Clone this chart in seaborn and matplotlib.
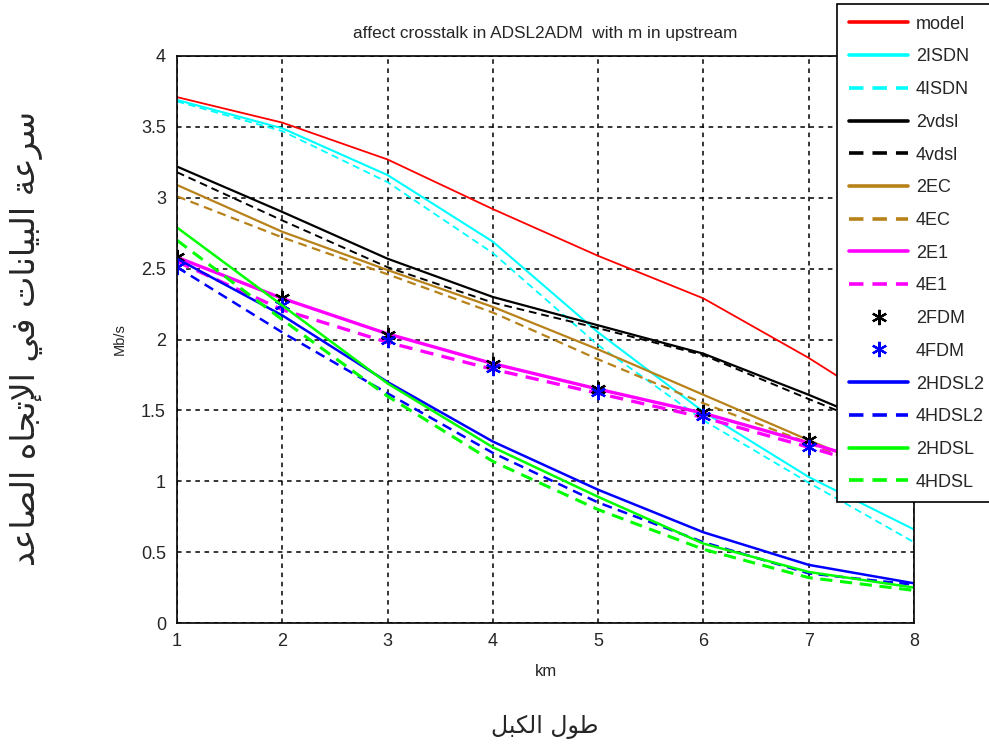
import numpy as np
import pandas as pd
import matplotlib
matplotlib.use("Agg")
import matplotlib.pyplot as plt
import seaborn as sns

# ---------------- data ----------------
km = [1, 2, 3, 4, 5, 6, 7, 8]
model = [3.71, 3.53, 3.27, 2.92, 2.59, 2.29, 1.87, 1.40]
isdn2 = [3.69, 3.49, 3.16, 2.69, 2.05, 1.49, 1.03, 0.66]
isdn4 = [3.68, 3.47, 3.11, 2.61, 1.96, 1.43, 0.99, 0.57]
vdsl2 = [3.22, 2.90, 2.57, 2.30, 2.10, 1.90, 1.61, 1.30]
vdsl4 = [3.18, 2.84, 2.51, 2.26, 2.08, 1.89, 1.58, 1.28]
ec2 = [3.09, 2.76, 2.49, 2.23, 1.93, 1.61, 1.29, 0.98]
ec4 = [3.01, 2.72, 2.46, 2.19, 1.86, 1.55, 1.27, 0.96]
e12 = [2.58, 2.29, 2.04, 1.83, 1.65, 1.48, 1.27, 1.05]
e14 = [2.55, 2.21, 1.98, 1.79, 1.62, 1.45, 1.24, 1.02]
fdm2 = [2.58, 2.29, 2.03, 1.83, 1.65, 1.49, 1.29, 1.08]
fdm4 = [2.51, 2.24, 2.00, 1.80, 1.63, 1.46, 1.24, 1.04]
hdsl2_2 = [2.57, 2.17, 1.70, 1.28, 0.94, 0.64, 0.41, 0.28]
hdsl2_4 = [2.51, 2.05, 1.62, 1.20, 0.85, 0.57, 0.35, 0.27]
hdsl_2 = [2.79, 2.24, 1.69, 1.24, 0.89, 0.56, 0.36, 0.25]
hdsl_4 = [2.70, 2.14, 1.60, 1.14, 0.80, 0.52, 0.32, 0.23]

yticks = [0, 0.5, 1, 1.5, 2, 2.5, 3, 3.5, 4]
yticklabels = ["0", "0.5", "1", "1.5", "2", "2.5", "3", "3.5", "4"]

title = "affect crosstalk in ADSL2ADM  with m in upstream"
ylabel_ar = "سرعة البيانات في الإتجاه الصاعد"
xlabel_ar = "طول الكبل"

# ---------------- minimal Arabic shaping for display ----------------
FORMS = {
    'ا': ('\uFE8D', '\uFE8E', None, None),
    'إ': ('\uFE87', '\uFE88', None, None),
    'ب': ('\uFE8F', '\uFE90', '\uFE91', '\uFE92'),
    'ة': ('\uFE93', '\uFE94', None, None),
    'ت': ('\uFE95', '\uFE96', '\uFE97', '\uFE98'),
    'ج': ('\uFE9D', '\uFE9E', '\uFE9F', '\uFEA0'),
    'د': ('\uFEA9', '\uFEAA', None, None),
    'ر': ('\uFEAD', '\uFEAE', None, None),
    'س': ('\uFEB1', '\uFEB2', '\uFEB3', '\uFEB4'),
    'ص': ('\uFEB9', '\uFEBA', '\uFEBB', '\uFEBC'),
    'ط': ('\uFEC1', '\uFEC2', '\uFEC3', '\uFEC4'),
    'ع': ('\uFEC9', '\uFECA', '\uFECB', '\uFECC'),
    'ف': ('\uFED1', '\uFED2', '\uFED3', '\uFED4'),
    'ك': ('\uFED9', '\uFEDA', '\uFEDB', '\uFEDC'),
    'ل': ('\uFEDD', '\uFEDE', '\uFEDF', '\uFEE0'),
    'ن': ('\uFEE5', '\uFEE6', '\uFEE7', '\uFEE8'),
    'ه': ('\uFEE9', '\uFEEA', '\uFEEB', '\uFEEC'),
    'و': ('\uFEED', '\uFEEE', None, None),
    'ي': ('\uFEF1', '\uFEF2', '\uFEF3', '\uFEF4'),
}
LAMALEF = {'ا': ('\uFEFB', '\uFEFC'), 'إ': ('\uFEF9', '\uFEFA')}


def dual(c):
    return c in FORMS and FORMS[c][2] is not None


def shape(s):
    out = []
    i = 0
    n = len(s)
    while i < n:
        c = s[i]
        if c not in FORMS:
            out.append(c)
            i += 1
            continue
        prev_joins = i > 0 and dual(s[i - 1])
        if c == 'ل' and i + 1 < n and s[i + 1] in LAMALEF:
            out.append(LAMALEF[s[i + 1]][1 if prev_joins else 0])
            i += 2
            continue
        next_ar = i + 1 < n and s[i + 1] in FORMS
        iso, fin, ini, med = FORMS[c]
        can_next = ini is not None and next_ar
        if prev_joins and can_next:
            out.append(med)
        elif prev_joins:
            out.append(fin)
        elif can_next:
            out.append(ini)
        else:
            out.append(iso)
        i += 1
    return ''.join(out)[::-1]


# ---------------- plotting ----------------
sns.set_theme(style="white")
plt.rcParams['font.family'] = ['Liberation Sans', 'DejaVu Sans']

fig = plt.figure(figsize=(9.89, 7.53), dpi=100)
ax = fig.add_axes([177 / 989, 1 - 623 / 753, (914 - 177) / 989, (623 - 56) / 753])

dash = (0, (4, 2.5))
series = [
    ("model", model, "#ff0000", "-", 1.3),
    ("2ISDN", isdn2, "#00ffff", "-", 1.5),
    ("4ISDN", isdn4, "#00ffff", dash, 1.3),
    ("2vdsl", vdsl2, "#000000", "-", 1.6),
    ("4vdsl", vdsl4, "#000000", dash, 1.4),
    ("2EC", ec2, "#b8821a", "-", 1.6),
    ("4EC", ec4, "#b8821a", dash, 1.6),
    ("2E1", e12, "#ff00ff", "-", 2.4),
    ("4E1", e14, "#ff00ff", dash, 2.4),
]
for name, vals, col, ls, lw in series:
    sns.lineplot(x=km, y=vals, color=col, linestyle=ls, linewidth=lw,
                 label=name, ax=ax)

for name, vals, col in [("2FDM", fdm2, "#000000"), ("4FDM", fdm4, "#0000ff")]:
    sns.lineplot(x=km, y=vals, color=col, linestyle="none", marker=(6, 2, 0),
                 markersize=11, markeredgewidth=1.6, markeredgecolor=col,
                 label=name, ax=ax)

series2 = [
    ("2HDSL2", hdsl2_2, "#0000ff", "-", 1.8),
    ("4HDSL2", hdsl2_4, "#0000ff", dash, 1.8),
    ("2HDSL", hdsl_2, "#00ff00", "-", 1.8),
    ("4HDSL", hdsl_4, "#00ff00", dash, 2.2),
]
for name, vals, col, ls, lw in series2:
    sns.lineplot(x=km, y=vals, color=col, linestyle=ls, linewidth=lw,
                 label=name, ax=ax)

ax.set_xlim(1, 8)
ax.set_ylim(0, 4)
ax.set_xticks(km)
ax.set_xticklabels([str(k) for k in km])
ax.set_yticks(yticks)
ax.set_yticklabels(yticklabels)
ax.grid(True, color="black", linestyle=(0, (3, 3)), linewidth=1.1)
ax.tick_params(axis="both", direction="in", length=5, labelsize=13,
               labelcolor="#262626", color="black")
ax.tick_params(axis="y", pad=8)
ax.tick_params(axis="x", pad=7)
for sp in ax.spines.values():
    sp.set_color("black")
    sp.set_linewidth(1.2)

ax.set_title(title, fontsize=12.4, color="#262626", pad=13)
ax.set_xlabel("km", fontsize=12, color="#262626", va="top")
ax.xaxis.set_label_coords(0.5, (623 - 664) / 567)
ax.set_ylabel("Mb/s", fontsize=10.5, color="#262626")
ax.yaxis.set_label_coords((127 - 177) / 737, 0.5)

leg = ax.legend(loc="upper left", bbox_to_anchor=(837 / 989, 1 - 4 / 753),
                bbox_transform=fig.transFigure, frameon=True, fancybox=False,
                fontsize=13, labelspacing=0.87, handlelength=3.3,
                handletextpad=0.42, borderpad=0.65, borderaxespad=0)
leg.get_frame().set_edgecolor("black")
leg.get_frame().set_linewidth(1.2)
leg.get_frame().set_alpha(1)
for t in leg.get_texts():
    t.set_color("#262626")
for h in leg.legend_handles:
    if h.get_linestyle() not in ("None", "none", ""):
        h.set_linewidth(2.6)

fig.text(27 / 989, 1 - 338 / 753, shape(ylabel_ar), rotation=90,
         ha="center", va="center", fontsize=24, family=["DejaVu Sans"])
fig.text(545 / 989, 1 - 727 / 753, shape(xlabel_ar),
         ha="center", va="center", fontsize=17, family=["DejaVu Sans"])

fig.savefig("out.png", dpi=100)
